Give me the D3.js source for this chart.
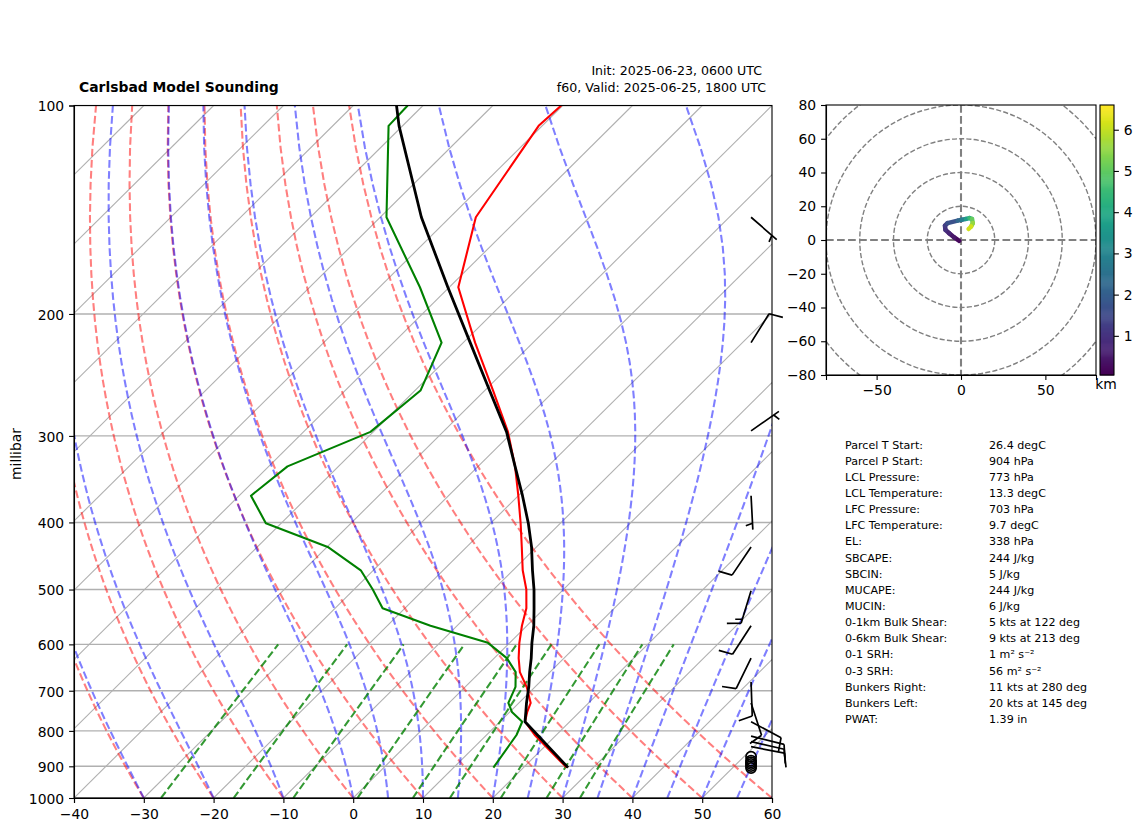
<!DOCTYPE html>
<html lang="en">
<head>
    <meta charset="UTF-8">
    <title>Carlsbad Model Sounding</title>
    <script src="https://d3js.org/d3.v7.min.js"></script>
    <style>
        body {
            margin: 0;
            background: white;
        }
        svg {
            display: block;
        }
        text {
            font-family: "DejaVu Sans", sans-serif;
            fill: black;
        }
        .tick text {
            font-family: "DejaVu Sans", sans-serif;
            font-size: 13.9px;
        }
        .tick line, .domain {
            stroke: black;
            stroke-width: 1.1px;
        }
        .stats text {
            font-size: 11.1px;
        }
    </style>
</head>
<body>
    <div id="svg-container"></div>
    <script>
        // sounding levels, hPa
        const levels = [100, 107, 145, 183, 220, 258, 296, 332, 366, 401, 434, 469, 500, 532, 564, 597, 628, 658, 691, 729, 751, 776, 811, 904]
        const temperature = [-70.2, -70.5, -66.3, -58.7, -48.3, -38.8, -30.7, -24.7, -20, -15.7, -12.1, -8.6, -5.3, -2.6, -0.7, 1.4, 3.5, 5.7, 8.8, 11.7, 12.5, 13.6, 16.9, 26.2]
        const dewpoint = [-92.2, -92, -79.1, -64.2, -53.1, -49.2, -50.4, -57.3, -58.3, -52.2, -39.9, -31.8, -27.3, -23.2, -13.8, -3.1, 1.8, 5.1, 7.2, 8.5, 10.3, 13.2, 14.3, 15.7]
        const parcel = [-93.8, -90.5, -74.1, -60.2, -49, -39.3, -30.9, -24.7, -19.4, -14.6, -10.7, -7.2, -4.2, -1.5, 1, 3.2, 5.3, 7.1, 9.1, 11.1, 12.3, 13.6, 17.3, 26.4]

        // wind barbs
        const barbPressure = [145, 220, 295, 366, 434, 502, 564, 628, 680, 729, 776, 814, 829, 843, 872, 883, 888, 893, 899, 905]
        const barbSpeed = [5, 10, 5, 5, 10, 15, 10, 10, 10, 10, 10, 10, 10, 10, 0, 0, 0, 0, 0, 0]
        const barbDirection = [131, 32, 55, 177, 214, 197, 213, 206, 178, 162, 118, 104, 103, 101, 0, 0, 0, 0, 0, 0]

        // hodograph, kts and km
        const hodoU = [-1, -4, -7, -9.2, -9.5, -8, -2, 0.5, 3, 5, 6.5, 7, 6, 4.5]
        const hodoV = [-0.5, 1.5, 4, 6, 8.5, 10, 11.5, 12, 12.5, 13, 12.5, 10, 8, 6.5]
        const hodoHeight = [0.1, 0.3, 0.6, 0.9, 1.1, 1.4, 2, 2.5, 3.2, 4.2, 4.8, 5.3, 5.8, 6.5]

        const statLabels = ['Parcel T Start:', 'Parcel P Start:', 'LCL Pressure:', 'LCL Temperature:', 'LFC Pressure:', 'LFC Temperature:', 'EL:', 'SBCAPE:', 'SBCIN:', 'MUCAPE:', 'MUCIN:', '0-1km Bulk Shear:', '0-6km Bulk Shear:', '0-1 SRH:', '0-3 SRH:', 'Bunkers Right:', 'Bunkers Left:', 'PWAT:']
        const statValues = ['26.4 degC', '904 hPa', '773 hPa', '13.3 degC', '703 hPa', '9.7 degC', '338 hPa', '244 J/kg', '5 J/kg', '244 J/kg', '6 J/kg', '5 kts at 122 deg', '9 kts at 213 deg', '1 m\u00b2 s\u207b\u00b2', '56 m\u00b2 s\u207b\u00b2', '11 kts at 280 deg', '20 kts at 145 deg', '1.39 in']

        // background thermodynamic lines
        const tempTicks = [-40, -30, -20, -10, 0, 10, 20, 30, 40, 50, 60]
        const pressureTicks = [100, 200, 300, 400, 500, 600, 700, 800, 900, 1000]
        const isotherms = d3.range(-140, 61, 10)
        const dryStarts = [-40, -30, -20, -10, 0, 10, 20, 30, 40, 50, 60]
        const moistStarts = [-40, -30, -20, -10, 0, 5, 10, 15, 20, 25, 30, 35, 40, 45, 50, 55, 60]
        const mixingRatios = [0.0004, 0.001, 0.002, 0.004, 0.007, 0.01, 0.016, 0.024, 0.032]

        const WIDTH = 1142
        const HEIGHT = 832
        const SKEW = 1.008
        const BARB_LEN = 34

        const svg = d3.select('#svg-container')
            .append('svg')
            .attr('width', WIDTH)
            .attr('height', HEIGHT)

        const x = d3.scaleLinear().domain([-40, 60]).range([74, 772])
        const y = d3.scaleLog().domain([1000, 100]).range([798, 105.5])
        const skewX = (t, p) => x(t) + SKEW * (y(1000) - y(p))

        svg.append('clipPath').attr('id', 'clip')
            .append('rect')
            .attr('x', 74).attr('y', 105.5).attr('width', 698).attr('height', 692.5)

        const line = d3.line().x(d => skewX(d[0], d[1])).y(d => y(d[1]))
        const plot = svg.append('g').attr('clip-path', 'url(#clip)')

        // GRID

        plot.selectAll('.isobar')
            .data(pressureTicks).enter()
            .append('line').attr('class', 'isobar')
            .attr('x1', 74).attr('x2', 772)
            .attr('y1', d => y(d)).attr('y2', d => y(d))
            .attr('stroke', '#b0b0b0').attr('stroke-width', 1.4)

        plot.selectAll('.isotherm')
            .data(isotherms).enter()
            .append('path').attr('class', 'isotherm')
            .attr('d', t => line([[t, 1000], [t, 100]]))
            .attr('stroke', '#b0b0b0').attr('stroke-width', 1.1).attr('fill', 'none')

        // ADIABATS

        const pressures = d3.range(1000, 99, -15)

        const dryLine = t0 => pressures.map(p => [(t0 + 273.15) * Math.pow(p / 1000, 0.2857) - 273.15, p])

        const satMix = (tk, p) => {
            const e = 6.112 * Math.exp(17.67 * (tk - 273.15) / (tk - 29.65))
            return 0.622 * e / (p - e)
        }
        const moistRate = (tk, p) => {
            const rs = satMix(tk, p)
            return (287.047 * tk + 2.501e6 * rs) / (1005 + 2.501e6 * 2.501e6 * rs * 0.622 / (287.047 * tk * tk)) / p
        }
        const moistLine = t0 => {
            let tk = t0 + 273.15
            return pressures.map((p, i) => {
                if (i > 0) {
                    const h = p - pressures[i - 1]
                    const k1 = moistRate(tk, p - h)
                    const k2 = moistRate(tk + h * k1 / 2, p - h / 2)
                    const k3 = moistRate(tk + h * k2 / 2, p - h / 2)
                    const k4 = moistRate(tk + h * k3, p)
                    tk += h * (k1 + 2 * k2 + 2 * k3 + k4) / 6
                }
                return [tk - 273.15, p]
            })
        }
        const mixLine = w => [1000, 900, 800, 700, 600].map(p => {
            const l = Math.log(w * p / (0.622 + w) / 6.112)
            return [243.5 * l / (17.67 - l), p]
        })

        const dashed = (cls, rows, lineFn, color, opacity) => plot.selectAll('.' + cls)
            .data(rows).enter()
            .append('path').attr('class', cls)
            .attr('d', d => line(lineFn(d)))
            .attr('fill', 'none')
            .attr('stroke', color)
            .attr('stroke-opacity', opacity)
            .attr('stroke-width', 2.08)
            .attr('stroke-dasharray', '7.7,3.33')

        dashed('dry', dryStarts, dryLine, 'red', 0.5)
        dashed('moist', moistStarts, moistLine, 'blue', 0.5)
        dashed('mix', mixingRatios, mixLine, 'green', 0.8)

        // PROFILES

        const profile = (values, color, width) => plot.append('path')
            .attr('d', line(values.map((t, i) => [t, levels[i]])))
            .attr('fill', 'none')
            .attr('stroke', color)
            .attr('stroke-width', width)
            .attr('stroke-linejoin', 'round')

        profile(temperature, 'red', 2.08)
        profile(dewpoint, 'green', 2.08)
        profile(parcel, 'black', 2.8)

        // AXES

        svg.append('rect')
            .attr('x', 74).attr('y', 105.5).attr('width', 698).attr('height', 692.5)
            .attr('fill', 'none').attr('stroke', 'black').attr('stroke-width', 1.1)

        svg.append('g')
            .attr('transform', 'translate(0,798)')
            .call(d3.axisBottom(x).tickValues(tempTicks).tickSize(4.9).tickPadding(5.9).tickFormat(d3.format('d')))
        svg.append('g')
            .attr('transform', 'translate(74,0)')
            .call(d3.axisLeft(y).tickValues(pressureTicks).tickSize(4.9).tickPadding(4.9).tickFormat(d3.format('d')))
            .call(g => g.selectAll('text').attr('dy', '0.38em'))

        svg.append('text')
            .attr('transform', 'translate(21,454) rotate(-90)')
            .attr('text-anchor', 'middle')
            .style('font-size', '13.9px')
            .text('millibar')

        svg.append('text')
            .attr('x', 79).attr('y', 92)
            .style('font-size', '13.9px').style('font-weight', 'bold')
            .text('Carlsbad Model Sounding')
        svg.append('text')
            .attr('x', 762).attr('y', 75).attr('text-anchor', 'end')
            .style('font-size', '12.6px')
            .text('Init: 2025-06-23, 0600 UTC')
        svg.append('text')
            .attr('x', 766).attr('y', 92).attr('text-anchor', 'end')
            .style('font-size', '12.6px')
            .text('f60, Valid: 2025-06-25, 1800 UTC')

        // BARBS

        const barbX = 74 + 0.97 * 698
        const barbs = svg.append('g').attr('class', 'barbs')

        const barbPath = (speed, direction) => {
            const rad = direction * Math.PI / 180
            const sx = Math.sin(rad), sy = -Math.cos(rad)
            const px = -sy, py = sx
            const pt = (along, across) => [along * sx + across * px, along * sy + across * py]
            let path = d3.path()
            path.moveTo(0, 0)
            let tip = pt(BARB_LEN, 0)
            path.lineTo(tip[0], tip[1])
            let offset = BARB_LEN
            const full = Math.floor(speed / 10)
            const half = speed % 10 >= 5
            for (let i = 0; i < full; i++) {
                const a = pt(offset, 0), b = pt(offset + 0.125 * BARB_LEN, 0.4 * BARB_LEN)
                path.moveTo(a[0], a[1])
                path.lineTo(b[0], b[1])
                offset -= 0.125 * BARB_LEN
            }
            if (half) {
                if (full === 0) offset -= 0.1875 * BARB_LEN
                const a = pt(offset, 0), b = pt(offset + 0.0625 * BARB_LEN, 0.2 * BARB_LEN)
                path.moveTo(a[0], a[1])
                path.lineTo(b[0], b[1])
            }
            return path.toString()
        }

        barbPressure.forEach((p, i) => {
            if (barbSpeed[i] < 2.5) {
                barbs.append('circle')
                    .attr('cx', barbX).attr('cy', y(p)).attr('r', 0.15 * BARB_LEN)
                    .attr('fill', 'none').attr('stroke', 'black').attr('stroke-width', 1.7)
            } else {
                barbs.append('path')
                    .attr('transform', `translate(${barbX},${y(p)})`)
                    .attr('d', barbPath(barbSpeed[i], barbDirection[i]))
                    .attr('fill', 'none').attr('stroke', 'black').attr('stroke-width', 1.7)
            }
        })

        // HODOGRAPH

        const hx = d3.scaleLinear().domain([-80, 80]).range([826, 1096])
        const hy = d3.scaleLinear().domain([-80, 80]).range([375, 105])
        const hodoRings = [20, 40, 60, 80, 100]

        svg.append('clipPath').attr('id', 'hodo-clip')
            .append('rect')
            .attr('x', 826).attr('y', 105).attr('width', 270).attr('height', 270)

        const hodo = svg.append('g').attr('clip-path', 'url(#hodo-clip)')

        hodo.selectAll('circle')
            .data(hodoRings).enter()
            .append('circle')
            .attr('cx', hx(0)).attr('cy', hy(0))
            .attr('r', d => hx(d) - hx(0))
            .attr('fill', 'none').attr('stroke', 'gray')
            .attr('stroke-width', 1.4).attr('stroke-dasharray', '5.1,2.2')

        hodo.append('line')
            .attr('x1', hx(0)).attr('x2', hx(0)).attr('y1', 105).attr('y2', 375)
            .attr('stroke', 'gray').attr('stroke-width', 2.08).attr('stroke-dasharray', '7.7,3.33')
        hodo.append('line')
            .attr('x1', 826).attr('x2', 1096).attr('y1', hy(0)).attr('y2', hy(0))
            .attr('stroke', 'gray').attr('stroke-width', 2.08).attr('stroke-dasharray', '7.7,3.33')

        const heightColor = d3.scaleSequential(d3.interpolateViridis).domain([0.05, 6.6])

        hodoHeight.slice(1).forEach((h, i) => {
            hodo.append('line')
                .attr('x1', hx(hodoU[i])).attr('y1', hy(hodoV[i]))
                .attr('x2', hx(hodoU[i + 1])).attr('y2', hy(hodoV[i + 1]))
                .attr('stroke', heightColor((h + hodoHeight[i]) / 2))
                .attr('stroke-width', 4.5)
                .attr('stroke-linecap', 'round')
        })

        svg.append('rect')
            .attr('x', 826).attr('y', 105).attr('width', 270).attr('height', 270)
            .attr('fill', 'none').attr('stroke', 'black').attr('stroke-width', 1.1)

        svg.append('g')
            .attr('transform', 'translate(0,375)')
            .call(d3.axisBottom(hx).tickValues([-50, 0, 50]).tickSize(4.9).tickPadding(4.9).tickFormat(d3.format('d')))
        svg.append('g')
            .attr('transform', 'translate(826,0)')
            .call(d3.axisLeft(hy).tickValues(d3.range(-80, 81, 20)).tickSize(4.9).tickPadding(4.9).tickFormat(d3.format('d')))

        // COLORBAR

        const cy = d3.scaleLinear().domain([0.05, 6.6]).range([375, 105])
        const cbarSteps = d3.range(0.05, 6.6, 0.025)

        svg.append('g').selectAll('rect')
            .data(cbarSteps).enter()
            .append('rect')
            .attr('x', 1100).attr('width', 14)
            .attr('y', d => cy(d + 0.025))
            .attr('height', d => cy(d) - cy(d + 0.025) + 0.5)
            .attr('fill', d => heightColor(d))

        svg.append('rect')
            .attr('x', 1100).attr('y', 105).attr('width', 14).attr('height', 270)
            .attr('fill', 'none').attr('stroke', 'black').attr('stroke-width', 1.1)

        svg.append('g')
            .attr('transform', 'translate(1114,0)')
            .call(d3.axisRight(cy).tickValues([1, 2, 3, 4, 5, 6]).tickSize(4.9).tickPadding(4.9).tickFormat(d3.format('d')))
            .call(g => g.select('.domain').remove())

        svg.append('text')
            .attr('x', 1106).attr('y', 389).attr('text-anchor', 'middle')
            .style('font-size', '13.9px')
            .text('km')

        // STATS

        const stats = svg.append('g').attr('class', 'stats')
        const statY = d3.scaleLinear().domain([0, 17]).range([448.5, 723])

        stats.selectAll('.label')
            .data(statLabels).enter()
            .append('text').attr('class', 'label')
            .attr('x', 845).attr('y', (d, i) => statY(i))
            .text(d => d)
        stats.selectAll('.value')
            .data(statValues).enter()
            .append('text').attr('class', 'value')
            .attr('x', 989).attr('y', (d, i) => statY(i))
            .text(d => d)
    </script>
</body>
</html>
